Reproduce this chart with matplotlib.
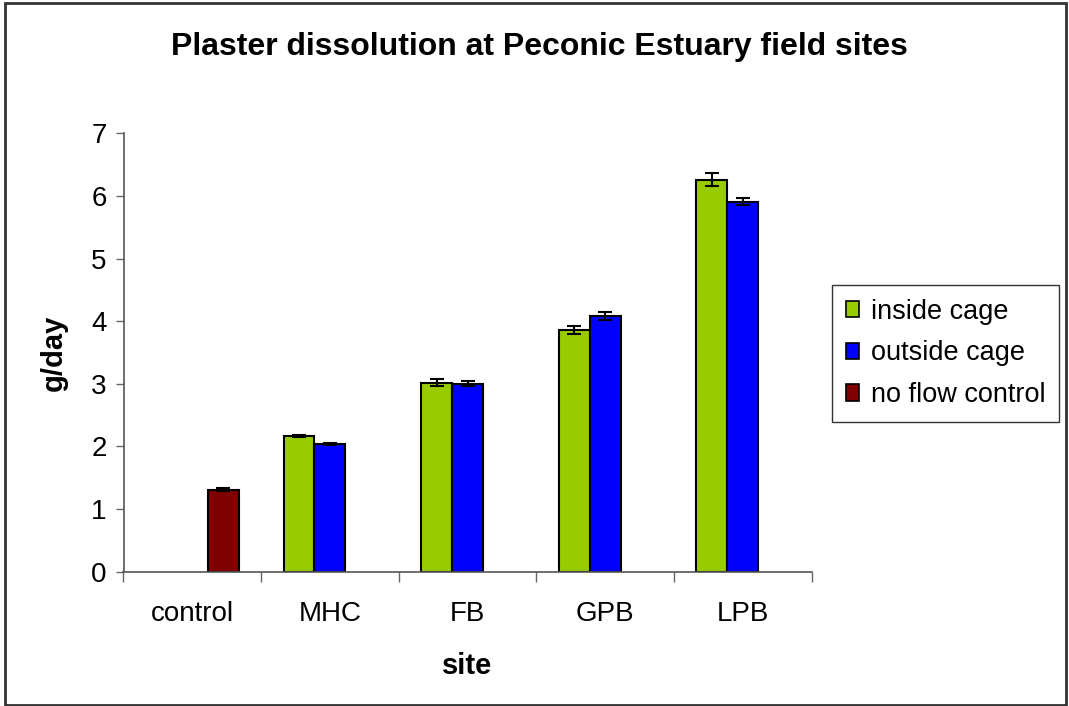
import numpy as np
import matplotlib
matplotlib.use("Agg")
import matplotlib.pyplot as plt
from matplotlib.patches import Rectangle, Patch

plt.rcParams['font.family'] = ['Liberation Sans', 'DejaVu Sans']

sites = ["control", "MHC", "FB", "GPB", "LPB"]
inside_cage = [np.nan, 2.17, 3.02, 3.86, 6.26]
inside_err = [np.nan, 0.02, 0.05, 0.065, 0.10]
outside_cage = [np.nan, 2.04, 3.00, 4.08, 5.91]
outside_err = [np.nan, 0.015, 0.04, 0.06, 0.06]
no_flow = [1.31, np.nan, np.nan, np.nan, np.nan]
no_flow_err = [0.025, np.nan, np.nan, np.nan, np.nan]
series_names = ["inside cage", "outside cage", "no flow control"]
colors = ["#99CC00", "#0000FF", "#800000"]
yticks = [0, 1, 2, 3, 4, 5, 6, 7]

W, H = 1069, 706
fig = plt.figure(figsize=(W / 100, H / 100), dpi=100)
ax = fig.add_axes([123.5 / W, 1 - 571.7 / H, (811.7 - 123.5) / W, (571.7 - 133.3) / H])

x = np.arange(len(sites))
bw = 0.225
offsets = [-bw, 0.0, bw]
all_vals = [inside_cage, outside_cage, no_flow]
all_errs = [inside_err, outside_err, no_flow_err]
for vals, errs, off, col in zip(all_vals, all_errs, offsets, colors):
    vals = np.array(vals, dtype=float)
    errs = np.array(errs, dtype=float)
    m = ~np.isnan(vals)
    ax.bar(x[m] + off, vals[m], width=bw, color=col, edgecolor='black',
           linewidth=1.5, zorder=2)
    ax.errorbar(x[m] + off, vals[m], yerr=errs[m], fmt='none', ecolor='black',
                elinewidth=1.5, capsize=5, capthick=1.5, zorder=3)

ax.set_xlim(-0.5, len(sites) - 0.5)
ax.set_ylim(0, 7)
ax.set_yticks(yticks)
ax.set_yticklabels([str(t) for t in yticks], fontsize=20)
ax.set_xticks(np.arange(len(sites) + 1) - 0.5)
ax.set_xticklabels([])
ax.set_xticks(x, minor=True)
ax.set_xticklabels(sites, minor=True, fontsize=20)
ax.tick_params(axis='x', which='minor', length=0, pad=21)
ax.tick_params(axis='x', which='major', length=7, width=1, color='#666666', direction='out')
ax.tick_params(axis='y', length=6, width=1, color='#666666', direction='out', pad=6)

for s in ['top', 'right']:
    ax.spines[s].set_visible(False)
for s in ['left', 'bottom']:
    ax.spines[s].set_color('#555555')
    ax.spines[s].set_linewidth(1.2)

ax.set_xlabel("site", fontsize=21, fontweight='bold', labelpad=18)
ax.set_ylabel("g/day", fontsize=21, fontweight='bold', labelpad=17)

fig.text(539 / W, 1 - 47 / H, "Plaster dissolution at Peconic Estuary field sites",
         ha='center', va='center', fontsize=23, fontweight='bold')

handles = [Patch(facecolor=c, edgecolor='black', linewidth=1.2) for c in colors]
leg = fig.legend(handles, series_names, loc='upper left',
                 bbox_to_anchor=(832 / W, 1 - 285 / H), fontsize=19.5,
                 frameon=True, fancybox=False, edgecolor='black',
                 handlelength=0.5, handleheight=0.55, handletextpad=0.45,
                 borderpad=0.5, labelspacing=0.58, borderaxespad=0)
leg.get_frame().set_linewidth(1.0)

fig.patches.append(Rectangle((5 / W, 1 - 705 / H), (1066 - 5) / W, (705 - 3) / H,
                             transform=fig.transFigure, fill=False,
                             edgecolor='#333333', linewidth=2))

fig.savefig("out.png", dpi=100)
